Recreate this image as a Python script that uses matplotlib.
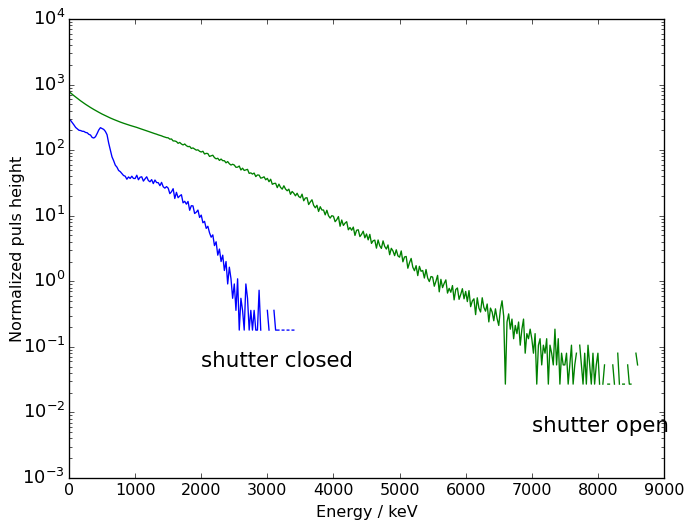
import numpy as np
import matplotlib
matplotlib.use('Agg')
import matplotlib.pyplot as plt

# spectra, one value per 25 keV bin
bin_kev = 25.0

shutter_open = [
    780, 743, 708, 676, 646, 617, 590, 565, 542, 520, 500, 481, 463, 447, 431, 417, 403, 390, 378, 366,
    355, 345, 335, 326, 317, 309, 301, 294, 287, 280, 274, 268, 262, 257, 252, 247, 242, 238, 234, 230,
    226, 222, 217, 213, 209, 205, 201, 197, 193, 189, 185, 182, 178, 175, 171, 168, 165, 161, 158, 155,
    154, 147, 148, 138, 138, 135, 127, 131, 124, 120, 124, 117, 113, 114, 106, 108, 104, 100, 101, 96,
    93.6, 96.1, 87.3, 89.3, 88.6, 80.2, 82, 83.6, 76.8, 73.7, 75.1, 69.7, 73.1, 69, 69, 64, 66.9, 62, 59.2, 60.9,
    59.2, 54.7, 55, 57.2, 49.8, 53, 49, 50, 50.9, 44.2, 45, 43.1, 44.7, 39.5, 41.8, 41.6, 37.4, 38, 39.2, 35.3,
    37.1, 33, 36, 30.1, 31, 31.2, 26.8, 30.3, 27, 25.4, 28.6, 25.5, 24, 25.4, 21.2, 23.4, 22, 20.1, 22, 19.6,
    18.8, 21.3, 16.9, 18.6, 18.8, 14.8, 16.2, 17.5, 14.4, 13.2, 14.4, 11.6, 13.7, 12.2, 12.2, 10.3, 12.1, 10, 9.2, 10,
    9.8, 8.1, 8.7, 9.7, 6.9, 8.6, 7.1, 7.7, 8.1, 6.1, 6.6, 6, 6.7, 5, 6, 6.1, 4.8, 5.2, 5.8, 4.6,
    5.26, 4.28, 5.19, 3.78, 4.15, 4.24, 3.2, 4.26, 3.48, 3.17, 4.13, 3.4, 3.1, 3.58, 2.54, 3.18, 2.9, 2.46, 3.02, 2.44,
    2.33, 2.9, 1.98, 2.35, 2.39, 1.58, 1.92, 2.23, 1.64, 1.45, 1.73, 1.22, 1.69, 1.42, 1.46, 1.12, 1.51, 1.12, 0.99, 1.18,
    1.16, 0.84, 1.0, 1.23, 0.69, 1.07, 0.8, 0.93, 1.05, 0.66, 0.78, 0.68, 0.86, 0.52, 0.75, 0.79, 0.53, 0.63, 0.77, 0.54,
    0.70, 0.49, 0.72, 0.41, 0.50, 0.54, 0.31, 0.56, 0.39, 0.34, 0.56, 0.40, 0.35, 0.45, 0.24, 0.39, 0.34, 0.25, 0.38, 0.27,
    .212, .371, .504, .292, .027, .239, .318, .186, .265, .133, .212, .159, .239, .106, .186, .265, .080, .159, .133, .186,
    .133, .080, .159, .027, .106, .133, .053, .106, .080, .133, .027, .106, .080, .053, .186, .053, .133, .027, .080, .053,
    .053, .080, .027, .053, .106, .027, .053, .080, 0, .106, .053, .027, .080, .027, .106, .053, .027, .080, .027, .053,
    .080, .027, 0, .027, .053, 0, .027, .027, 0, .053, .027, 0, .080, .027, 0, .027, .027, 0, .053, .027,
    .027, 0, 0, .080, .053,
]

shutter_closed = [
    296, 283, 262, 242, 222, 211, 201, 199, 194, 193, 186, 184, 174, 170, 156, 153, 160, 179, 203, 220,
    213, 207, 193, 172, 128, 101, 79, 69, 59, 55, 49, 47, 44, 41, 40, 36, 39, 37, 40, 37,
    36.9, 41.4, 35.3, 38.6, 39.2, 33.7, 36.5, 39.2, 34.4, 32.9, 35.5, 30.9, 35, 32, 31.9, 28.7, 32.2, 27.6, 26.3, 27.8,
    26.3, 21.7, 23.2, 25.8, 18.3, 22.7, 18.8, 20, 20.9, 15.7, 16.6, 15, 16.5, 12.1, 14.2, 14.1, 10.8, 11.3, 12.2, 9.4,
    10.2, 7.8, 8.2, 6.4, 6.9, 5.5, 4.7, 5.1, 3.5, 4.0, 2.5, 3.1, 2.0, 2.5, 1.46, 2.0, 0.91, 1.64, 1.09, 0.55,
    0.91, 0.36, 1.09, 0.18, 0.55, 0.36, 0.18, 0.91, 0.55, 0.18, 0.36, 0.18, 0.36, 0.18, 0.18, 0.73, 0.18, 0, 0, 0,
    0.36, 0.18, 0, 0, 0.36, 0.18, 0.18, 0.18, 0, 0.18, 0.18, 0, 0.18, 0.18, 0, 0.18, 0.18,
]

plt.style.use('classic')
plt.rcParams['mathtext.fontset'] = 'dejavusans'

e_open = np.arange(len(shutter_open)) * bin_kev
e_closed = np.arange(len(shutter_closed)) * bin_kev

dpi = 96
fig = plt.figure(figsize=(684.0 / dpi, 526.0 / dpi), dpi=dpi, facecolor='white')
ax = fig.add_axes([0.1009, 0.0913, 0.8699, 0.8726])

ax.plot(e_open, shutter_open, color='g', lw=1.0)
ax.plot(e_closed, shutter_closed, color='b', lw=1.0)
ax.set_yscale('log', nonpositive='mask')

ax.set_xlim(0, 9000)
ax.set_ylim(1e-3, 1e4)
ax.set_xticks(np.arange(0, 9001, 1000))
ax.tick_params(axis='y', labelsize=13.5, pad=3)

ax.text(2000, 0.05, 'shutter closed', fontsize=16)
ax.text(7000, 0.005, 'shutter open', fontsize=16)

ax.set_xlabel('Energy / keV')
ax.set_ylabel('Normalized puls height')
ax.yaxis.set_label_coords(-0.074, 0.5)

fig.savefig('out.png', dpi=dpi, facecolor='white')
